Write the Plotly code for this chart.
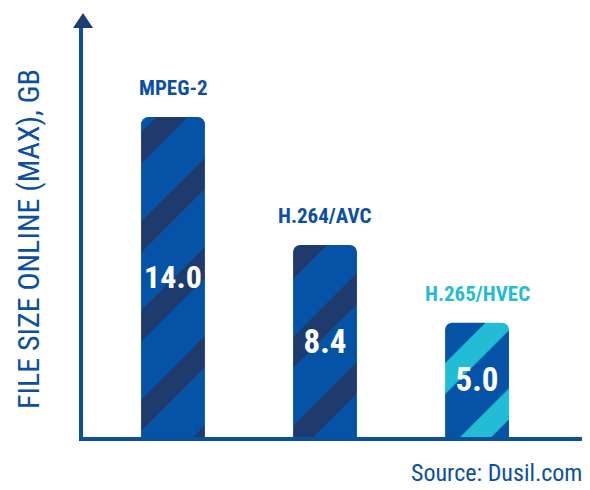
import plotly.graph_objects as go

categories = ["MPEG-2", "H.264/AVC", "H.265/HVEC"]
values = [14.0, 8.4, 5.0]
label_colors = ["#0b4fa3", "#0b4fa3", "#22bcd4"]
stripe_colors = ["#1f3a6d", "#1f3a6d", "#22bcd4"]
y_title = "FILE SIZE ONLINE (MAX), GB"
source_text = "Source: Dusil.com"

FONT = "Roboto Condensed, Open Sans Condensed, sans-serif"
BLUE = "#0553a6"
AXIS = "#0a4fa0"
NAVY = "#1f3d72"

fig = go.Figure()
fig.add_trace(go.Bar(
    x=list(range(len(categories))),
    y=values,
    width=0.42,
    marker=dict(
        color=BLUE,
        line=dict(width=0),
        pattern=dict(shape="/", fgcolor=stripe_colors, bgcolor=BLUE,
                     size=63, solidity=0.35, fillmode="replace"),
    ),
    texttemplate="%{y:.1f}",
    textposition="inside",
    insidetextanchor="middle",
    textangle=0,
    constraintext="none",
    textfont=dict(family=FONT, size=33, color="white", weight="bold"),
    hoverinfo="skip",
))

annotations = []
for i, (c, v, col) in enumerate(zip(categories, values, label_colors)):
    annotations.append(dict(
        x=i, y=v, xref="x", yref="y", text=c, showarrow=False,
        yanchor="middle", yshift=29,
        font=dict(family=FONT, size=21, color=col, weight="bold"),
    ))
annotations.append(dict(
    x=-0.11, y=0.484, xref="paper", yref="paper", text=y_title, showarrow=False,
    textangle=-90, xanchor="center", yanchor="middle",
    font=dict(family=FONT, size=30, color=AXIS),
))
annotations.append(dict(
    x=1.0, y=-0.124, xref="paper", yref="paper", text=source_text, showarrow=False,
    xanchor="right", yanchor="bottom", borderpad=0,
    font=dict(family=FONT, size=24, color=AXIS),
))

shapes = [
    dict(type="path", xref="paper", yref="paper",
         path="M 0,1.0367 L -0.02,1.0 L 0.02,1.0 Z",
         fillcolor=NAVY, line=dict(width=0)),
    dict(type="path", xref="paper", yref="paper",
         path="M 1.016,0 L 0.998,0.022 L 0.998,-0.022 Z",
         fillcolor=NAVY, line=dict(width=0)),
]

# page body has an 8px margin, so the figure is drawn 8px smaller
fig.update_layout(
    width=582, height=482,
    margin=dict(l=75, r=7, t=20, b=53),
    plot_bgcolor="white", paper_bgcolor="white",
    barcornerradius=7,
    showlegend=False,
    annotations=annotations,
    shapes=shapes,
    xaxis=dict(range=[-0.592, 2.697], showticklabels=False, showgrid=False,
               zeroline=False, ticks="", showline=True, linecolor=AXIS, linewidth=4),
    yaxis=dict(range=[0, 17.9], showticklabels=False, showgrid=False,
               zeroline=False, ticks="", showline=True, linecolor=AXIS, linewidth=4),
)

fig.write_html("out.html")
